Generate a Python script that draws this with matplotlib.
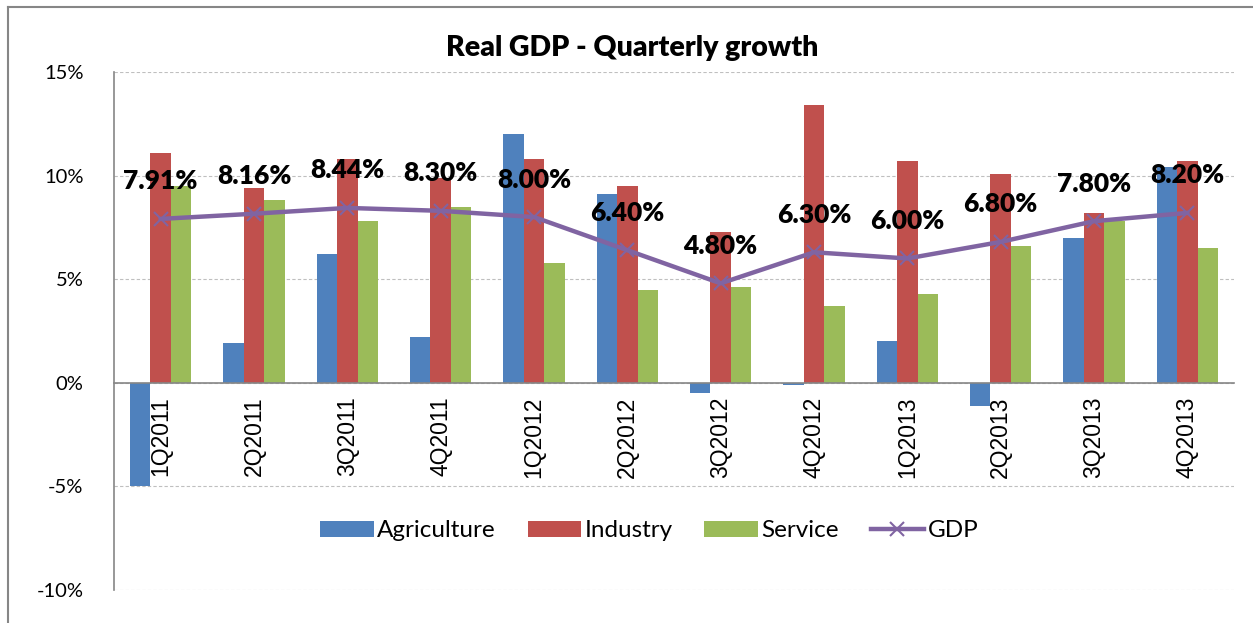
import numpy as np
import matplotlib
matplotlib.use("Agg")
from matplotlib import pyplot as plt
from matplotlib.lines import Line2D

plt.rcParams['font.family'] = ['Lato', 'DejaVu Sans']

quarters = ["1Q2011", "2Q2011", "3Q2011", "4Q2011", "1Q2012", "2Q2012",
            "3Q2012", "4Q2012", "1Q2013", "2Q2013", "3Q2013", "4Q2013"]
agriculture = [-5.0, 1.9, 6.2, 2.2, 12.0, 9.1, -0.5, -0.1, 2.0, -1.1, 7.0, 10.4]
industry = [11.1, 9.4, 10.8, 9.9, 10.8, 9.5, 7.3, 13.4, 10.7, 10.1, 8.2, 10.7]
service = [9.5, 8.8, 7.8, 8.5, 5.8, 4.5, 4.6, 3.7, 4.3, 6.6, 7.8, 6.5]
gdp = [7.91, 8.16, 8.44, 8.30, 8.00, 6.40, 4.80, 6.30, 6.00, 6.80, 7.80, 8.20]

cols = ['#4F81BD', '#C0504D', '#9BBB59']
gdp_col = '#8064A2'

fig = plt.figure(figsize=(12.53, 6.23), dpi=100)
ax = fig.add_axes([114 / 1253, 1 - 590 / 623, 1120 / 1253, 518 / 623])

# zero line as the bottom spine (set before ticks, it resets them)
ax.spines['bottom'].set_position(('data', 0))
ax.spines['bottom'].set_color('#868686')
ax.spines['bottom'].set_linewidth(1.2)
ax.spines['bottom'].set_zorder(2.5)
ax.spines['left'].set_color('#868686')
ax.spines['left'].set_linewidth(1.2)
ax.spines['top'].set_visible(False)
ax.spines['right'].set_visible(False)

x = np.arange(len(quarters))
w = 0.22
ax.bar(x - w, agriculture, w, color=cols[0], label='Agriculture', zorder=2)
ax.bar(x, industry, w, color=cols[1], label='Industry', zorder=2)
ax.bar(x + w, service, w, color=cols[2], label='Service', zorder=2)
ax.plot(x, gdp, color=gdp_col, linewidth=3.2, marker='x', markersize=10,
        markeredgewidth=1.5, label='GDP', zorder=3)

for i, v in enumerate(gdp):
    ax.annotate('%.2f%%' % v, (i, v), xytext=(0, 27), textcoords='offset points',
                ha='center', va='center', fontsize=19, fontweight='heavy', zorder=4)

ax.set_xlim(-0.5, len(quarters) - 0.5)
ax.set_ylim(-10, 15)
ax.set_yticks([-10, -5, 0, 5, 10, 15])
ax.set_yticklabels(['%d%%' % t for t in [-10, -5, 0, 5, 10, 15]], fontsize=14.5)
ax.tick_params(axis='y', length=0, pad=22)
ax.yaxis.grid(True, color='#BFBFBF', linestyle=(0, (3, 2)), linewidth=0.8, zorder=0)

ax.set_xticks(x)
ax.set_xticklabels(quarters, rotation=90, fontsize=16.5, family='Liberation Sans')
ax.tick_params(axis='x', length=0, pad=10)

h, l = ax.get_legend_handles_labels()
order = [1, 2, 3, 0]
ax.legend([h[k] for k in order], [l[k] for k in order], loc='center',
          bbox_to_anchor=(0.478, 0.114), ncol=4, frameon=False,
          fontsize=17.5, handlelength=2.2, handleheight=0.6, columnspacing=1.3,
          handletextpad=0.15)

fig.text(632 / 1253, 1 - 48 / 623, 'Real GDP - Quarterly growth', ha='center',
         va='center', fontsize=20.5, fontweight='heavy')

# outer chart border
fig.add_artist(Line2D([8 / 1253, 8 / 1253], [0, 1 - 7 / 623], color='#868686', linewidth=1.5))
fig.add_artist(Line2D([8 / 1253, 1], [1 - 7 / 623, 1 - 7 / 623], color='#868686', linewidth=1.5))

plt.savefig('out.png', dpi=100)
